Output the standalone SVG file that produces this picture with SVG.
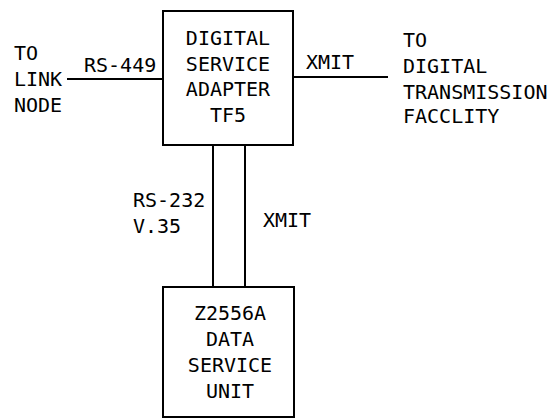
<svg xmlns="http://www.w3.org/2000/svg" width="550" height="418" viewBox="0 0 550 418">
<style>
text{font-family:"DejaVu Sans Mono","Liberation Mono",monospace;font-size:20px;fill:#000}
.c{text-anchor:middle}
.box{fill:#fff;stroke:#000;stroke-width:2}
.ln{stroke:#000;stroke-width:2;fill:none}
</style>
<rect width="550" height="418" fill="#fff"/>
<g id="connectors">
<line class="ln" x1="67" y1="79" x2="163" y2="79"/>
<line class="ln" x1="293" y1="77" x2="388" y2="77"/>
<line class="ln" x1="213" y1="145" x2="213" y2="287"/>
<line class="ln" x1="245" y1="145" x2="245" y2="287"/>
<text x="84" y="72">RS-449</text>
<text x="306" y="69">XMIT</text>
<text x="133" y="207">RS-232</text>
<text x="133" y="233">V.35</text>
<text x="263" y="227">XMIT</text>
</g>
<g id="dsa">
<rect class="box" x="163" y="11" width="130" height="134"/>
<text class="c" x="228" y="45">DIGITAL</text>
<text class="c" x="228" y="71">SERVICE</text>
<text class="c" x="228" y="96">ADAPTER</text>
<text class="c" x="228" y="122">TF5</text>
</g>
<g id="dsu">
<rect class="box" x="163" y="287" width="131" height="130"/>
<text class="c" x="230" y="320">Z2556A</text>
<text class="c" x="230" y="346">DATA</text>
<text class="c" x="230" y="372">SERVICE</text>
<text class="c" x="230" y="398">UNIT</text>
</g>
<g id="link-node">
<text x="14" y="60">TO</text>
<text x="14" y="86">LINK</text>
<text x="14" y="112">NODE</text>
</g>
<g id="facility">
<text x="403" y="47">TO</text>
<text x="403" y="73">DIGITAL</text>
<text x="403" y="99">TRANSMISSION</text>
<text x="403" y="123">FACCLITY</text>
</g>
</svg>
